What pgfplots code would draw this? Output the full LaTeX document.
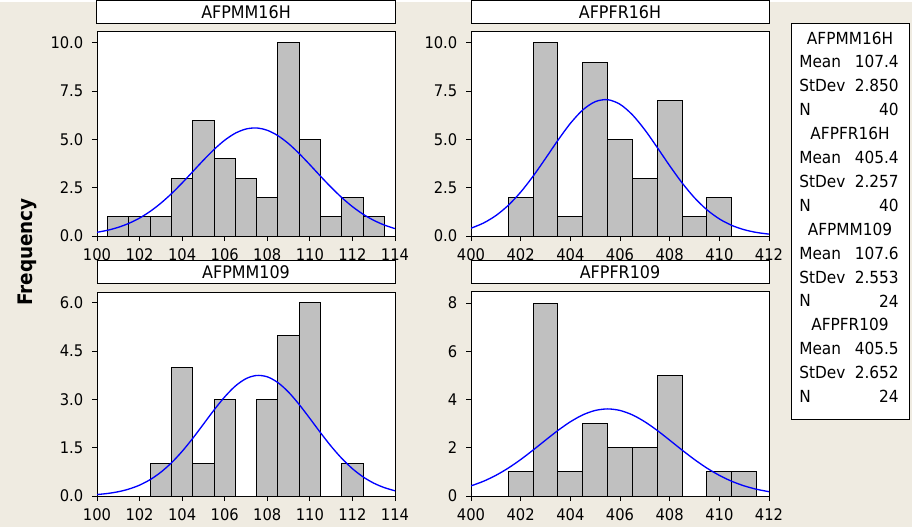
\documentclass[border=0pt]{standalone}
\usepackage{pgfplots}
\pgfplotsset{compat=1.18}
\usepackage{fontspec}
\setmainfont{DejaVu Sans}[FakeStretch=0.92]
\definecolor{bg}{RGB}{239,235,225}
\definecolor{bargray}{RGB}{192,192,192}
\definecolor{fitblue}{RGB}{0,0,255}
\pgfplotsset{
  panel/.style={at={#1}, anchor=south west, scale only axis, width=223.5pt, height=153pt,
    axis background/.style={fill=white}, axis line style={black, line width=0.75pt},
    tick align=outside, major tick length=3.75pt, xtick pos=left, ytick pos=left,
    tick style={black, line width=0.75pt},
    tick label style={font=\fontsize{12}{12}\selectfont},
    xticklabel style={yshift=-2.5pt}, yticklabel style={xshift=-3pt},
    /pgf/number format/assume math mode=true, ymin=0,
    title style={draw=black, line width=0.75pt, fill=white, at={(0.5,1)}, anchor=south, yshift=0pt,
      minimum width=223.5pt, minimum height=17.25pt, inner sep=0pt, font=\fontsize{13}{13}\selectfont}},
  onedec/.style={yticklabel style={/pgf/number format/.cd, fixed, fixed zerofill, precision=1}},
  bars/.style={ybar, bar width=1, bar shift=0pt, fill=bargray, draw=black, line width=0.75pt},
  fit/.style={fitblue, line width=1pt, smooth, no marks},
}
\begin{document}
\begin{tikzpicture}
\fill[bg] (0pt,0pt) rectangle (684pt,-393.75pt);

% AFPMM16H
\begin{axis}[panel={(72.75pt,-175.5pt)}, onedec, title=AFPMM16H, xmin=100, xmax=114, xtick={100,102,...,114},
  ymax=10.57, ytick={0,2.5,...,10}]
  \addplot[bars] coordinates {(101,1)(102,1)(103,1)(104,3)(105,6)(106,4)(107,3)(108,2)(109,10)(110,5)(111,1)(112,2)(113,1)};
  \addplot[fit] coordinates {(100,0.192)(100.5,0.299)(101,0.450)(101.5,0.657)(102,0.930)(102.5,1.277)(103,1.701)(103.5,2.195)(104,2.749)(104.5,3.337)(105,3.928)(105.5,4.484)(106,4.964)(106.5,5.328)(107,5.545)(107.5,5.597)(108,5.477)(108.5,5.198)(109,4.784)(109.5,4.269)(110,3.694)(110.5,3.099)(111,2.522)(111.5,1.990)(112,1.522)(112.5,1.129)(113,0.813)(113.5,0.567)(114,0.383)};
\end{axis}

% AFPFR16H
\begin{axis}[panel={(353.25pt,-175.5pt)}, onedec, title=AFPFR16H, xmin=400, xmax=412, xtick={400,402,...,412},
  ymax=10.57, ytick={0,2.5,...,10}]
  \addplot[bars] coordinates {(402,2)(403,10)(404,1)(405,9)(406,5)(407,3)(408,7)(409,1)(410,2)};
  \addplot[fit] coordinates {(400,0.404)(400.5,0.670)(401,1.057)(401.5,1.589)(402,2.273)(402.5,3.097)(403,4.017)(403.5,4.960)(404,5.833)(404.5,6.530)(405,6.960)(405.5,7.063)(406,6.825)(406.5,6.278)(407,5.499)(407.5,4.586)(408,3.641)(408.5,2.753)(409,1.981)(409.5,1.358)(410,0.886)(410.5,0.550)(411,0.326)(411.5,0.183)(412,0.098)};
\end{axis}

% AFPMM109
\begin{axis}[panel={(72.75pt,-370.5pt)}, onedec, title=AFPMM109, xmin=100, xmax=114, xtick={100,102,...,114},
  ymax=6.34, ytick={0,1.5,...,6}]
  \addplot[bars] coordinates {(103,1)(104,4)(105,1)(106,3)(107,0)(108,3)(109,5)(110,6)(111,0)(112,1)};
  \addplot[fit] coordinates {(100,0.045)(100.5,0.079)(101,0.133)(101.5,0.216)(102,0.338)(102.5,0.510)(103,0.740)(103.5,1.033)(104,1.388)(104.5,1.794)(105,2.233)(105.5,2.674)(106,3.081)(106.5,3.418)(107,3.648)(107.5,3.747)(108,3.704)(108.5,3.524)(109,3.227)(109.5,2.843)(110,2.411)(110.5,1.967)(111,1.545)(111.5,1.168)(112,0.849)(112.5,0.594)(113,0.400)(113.5,0.260)(114,0.162)};
\end{axis}

% AFPFR109
\begin{axis}[panel={(353.25pt,-370.5pt)}, title=AFPFR109, xmin=400, xmax=412, xtick={400,402,...,412},
  ymax=8.456, ytick={0,2,...,8}]
  \addplot[bars] coordinates {(402,1)(403,8)(404,1)(405,3)(406,2)(407,2)(408,5)(409,0)(410,1)(411,1)};
  \addplot[fit] coordinates {(400,0.420)(400.5,0.610)(401,0.856)(401.5,1.157)(402,1.511)(402.5,1.904)(403,2.315)(403.5,2.717)(404,3.076)(404.5,3.362)(405,3.546)(405.5,3.610)(406,3.546)(406.5,3.362)(407,3.076)(407.5,2.717)(408,2.315)(408.5,1.904)(409,1.511)(409.5,1.157)(410,0.856)(410.5,0.610)(411,0.420)(411.5,0.279)(412,0.179)};
\end{axis}

% y label and stats box, in pixel units of the reference
\begin{scope}[x=0.75pt, y=-0.75pt, font=\fontsize{12.5}{12.5}\selectfont]
  \node[rotate=90, font=\bfseries\fontsize{15}{15}\selectfont] at (27,250) {Frequency};
  \draw[fill=white, line width=0.75pt] (791,22) rectangle (909,417);
  \node at (850,36) {AFPMM16H};
  \node[anchor=west, inner sep=0pt] at (799,59.9) {Mean};  \node[anchor=east, inner sep=0pt] at (899,59.9) {107.4};
  \node[anchor=west, inner sep=0pt] at (799,83.8) {StDev}; \node[anchor=east, inner sep=0pt] at (899,83.8) {2.850};
  \node[anchor=west, inner sep=0pt] at (799,107.7) {N};    \node[anchor=east, inner sep=0pt] at (899,107.7) {40};
  \node at (850,131.6) {AFPFR16H};
  \node[anchor=west, inner sep=0pt] at (799,155.5) {Mean};  \node[anchor=east, inner sep=0pt] at (899,155.5) {405.4};
  \node[anchor=west, inner sep=0pt] at (799,179.4) {StDev}; \node[anchor=east, inner sep=0pt] at (899,179.4) {2.257};
  \node[anchor=west, inner sep=0pt] at (799,203.3) {N};     \node[anchor=east, inner sep=0pt] at (899,203.3) {40};
  \node at (850,227.2) {AFPMM109};
  \node[anchor=west, inner sep=0pt] at (799,251.1) {Mean};  \node[anchor=east, inner sep=0pt] at (899,251.1) {107.6};
  \node[anchor=west, inner sep=0pt] at (799,275) {StDev};   \node[anchor=east, inner sep=0pt] at (899,275) {2.553};
  \node[anchor=west, inner sep=0pt] at (799,298.9) {N};     \node[anchor=east, inner sep=0pt] at (899,298.9) {24};
  \node at (850,322.8) {AFPFR109};
  \node[anchor=west, inner sep=0pt] at (799,346.7) {Mean};  \node[anchor=east, inner sep=0pt] at (899,346.7) {405.5};
  \node[anchor=west, inner sep=0pt] at (799,370.6) {StDev}; \node[anchor=east, inner sep=0pt] at (899,370.6) {2.652};
  \node[anchor=west, inner sep=0pt] at (799,394.5) {N};     \node[anchor=east, inner sep=0pt] at (899,394.5) {24};
\end{scope}
\end{tikzpicture}
\end{document}
